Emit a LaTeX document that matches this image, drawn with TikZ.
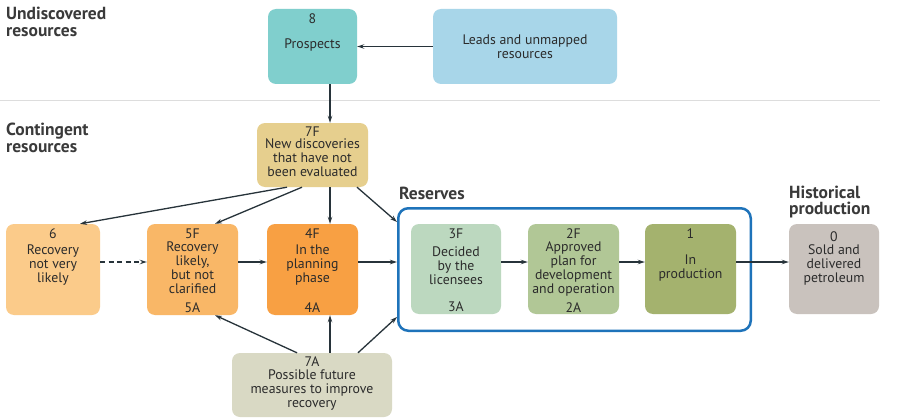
\documentclass[tikz,border=0pt]{standalone}
\usepackage{fontspec}
\setmainfont{PT Sans}
\usepackage{xcolor}
\usetikzlibrary{arrows.meta}

\definecolor{prospcol}{HTML}{80CFCD}
\definecolor{leadcol}{HTML}{A8D6E9}
\definecolor{newcol}{HTML}{E6CF8E}
\definecolor{lowcol}{HTML}{FBCB8A}
\definecolor{likelycol}{HTML}{F9B767}
\definecolor{plancol}{HTML}{F8A043}
\definecolor{decidedcol}{HTML}{BCD8BF}
\definecolor{approvedcol}{HTML}{B1C796}
\definecolor{prodcol}{HTML}{A4B26E}
\definecolor{soldcol}{HTML}{C9C2BD}
\definecolor{futurecol}{HTML}{D9D9C4}
\definecolor{rescol}{HTML}{1E73BA}
\definecolor{arrowcol}{HTML}{27333A}
\definecolor{textcol}{HTML}{2B2B2B}
\definecolor{headcol}{HTML}{3A3A3A}
\definecolor{rulecol}{HTML}{DDDDDD}

\begin{document}
\begin{tikzpicture}[x=1pt, y=-1pt,
    box/.style={rounded corners=8pt, inner sep=0pt, minimum width=91pt, minimum height=91pt},
    lbl/.style={align=center, inner sep=0pt, text=textcol, font=\fontsize{13.8}{14}\selectfont},
    hdr/.style={align=left, inner sep=0pt, anchor=north west, text=headcol, font=\bfseries\fontsize{17.5}{16.8}\selectfont},
    flow/.style={draw=arrowcol, line width=1.3pt, -{Stealth[length=7pt,width=4.5pt]}}]
    % Background and the dividing rule
    \fill[white] (0,0) rectangle (900,420);
    \useasboundingbox (0,0) rectangle (900,420);
    \draw[rulecol, line width=1pt] (0,100) -- (880,100); % rule under undiscovered

    % Headings
    \node[hdr] (undisc) at (6,7) {Undiscovered\\resources};
    \node[hdr] (conting) at (6,123) {Contingent\\resources};
    \node[hdr] (resT) at (399,186.5) {Reserves};
    \node[hdr] (hist) at (789,185.5) {Historical\\production};

    % Undiscovered resources
    \node[box, fill=prospcol, minimum width=89pt, minimum height=75pt] (prosp) at (312.5,46.5) {};
    \node[lbl, anchor=north, yshift=-5pt] (prospT) at (prosp.north) {8\\[11pt]Prospects};
    \node[box, fill=leadcol, minimum width=184pt, minimum height=75pt, lbl] (leads) at (525,46.5) {Leads and unmapped\\resources};

    % Contingent resources
    \node[box, fill=newcol, minimum width=111pt, minimum height=64pt] (new) at (312.5,155) {};
    \node[lbl, anchor=north, yshift=-3.8pt] (newT) at (new.north) {7F\\[-1.5pt]New discoveries\\that have not\\been evaluated};
    \node[box, fill=lowcol, minimum width=94pt] (low) at (53,269.5) {};
    \node[lbl, anchor=north, yshift=-5pt] (lowT) at (low.north) {6\\[2pt]Recovery\\not very\\likely};
    \node[box, fill=likelycol] (likely) at (192.5,269.5) {};
    \node[lbl, anchor=north, yshift=-5pt] (likelyT) at (likely.north) {5F\\[-1pt]Recovery\\likely,\\but not\\clarified};
    \node[lbl, anchor=south, yshift=2.5pt] (likelyA) at (likely.south) {5A};
    \node[box, fill=plancol] (plan) at (312.5,269.5) {};
    \node[lbl, anchor=north, yshift=-5pt] (planT) at (plan.north) {4F\\[1.5pt]In the\\planning\\phase};
    \node[lbl, anchor=south, yshift=2.5pt] (planA) at (plan.south) {4A};
    \node[box, fill=futurecol, minimum width=160pt, minimum height=64pt] (future) at (312,385) {};
    \node[lbl, anchor=north, yshift=-4pt] (futureT) at (future.north) {7A\\[-1pt]Possible future\\measures to improve\\recovery};

    % Reserves
    \node[draw=rescol, line width=2.5pt, rounded corners=10pt, inner sep=0pt, minimum width=352.5pt, minimum height=122.5pt] (reserves) at (574.5,269.5) {};
    \node[box, fill=decidedcol, minimum width=90pt, minimum height=90pt] (decided) at (456,269) {};
    \node[lbl, anchor=north, yshift=-4.5pt] (decidedT) at (decided.north) {3F\\[4pt]Decided\\by the\\licensees};
    \node[lbl, anchor=south, yshift=2pt] (decidedA) at (decided.south) {3A};
    \node[box, fill=approvedcol, minimum height=90pt] (approved) at (573.5,269) {};
    \node[lbl, anchor=north, yshift=-4.5pt] (approvedT) at (approved.north) {2F\\[-1pt]Approved\\plan for\\development\\and operation};
    \node[lbl, anchor=south, yshift=2pt] (approvedA) at (approved.south) {2A};
    \node[box, fill=prodcol, minimum height=90pt] (prod) at (690.5,269) {};
    \node[lbl, anchor=north, yshift=-4.5pt] (prodT) at (prod.north) {1\\[12pt]In\\production};

    % Historical production
    \node[box, fill=soldcol, minimum width=90pt, minimum height=90pt] (sold) at (834,269) {};
    \node[lbl, anchor=north, yshift=-7.5pt] (soldT) at (sold.north) {0\\[-1pt]Sold and\\delivered\\petroleum};

    % Draw the arrows
    \draw[flow] (leads) -- (prosp);
    \draw[flow] ([xshift=17.5pt]prosp.south) -- ([xshift=17.5pt]new.north);
    \draw[flow] ([xshift=-25.5pt]new.south) -- ([xshift=27pt]low.north); % to 6
    \draw[flow] ([xshift=-10.5pt]new.south) -- ([xshift=22.5pt]likely.north); % to 5F
    \draw[flow] ([xshift=17.5pt]new.south) -- ([xshift=17.5pt]plan.north); % to 4F
    \draw[flow] ([xshift=44.5pt]new.south) -- ([yshift=47.5pt]reserves.west); % to reserves
    \draw[flow, dash pattern=on 5pt off 3.5pt] ([yshift=7.5pt]low.east) -- ([yshift=7.5pt]likely.west);
    \draw[flow] ([yshift=7.5pt]likely.east) -- ([yshift=7.5pt]plan.west);
    \draw[flow] ([yshift=7.5pt]plan.east) -- ([yshift=7.5pt]reserves.west);
    \draw[flow] ([yshift=7pt]decided.east) -- ([yshift=7pt]approved.west);
    \draw[flow] ([yshift=7pt]approved.east) -- ([yshift=7pt]prod.west);
    \draw[flow] ([yshift=7pt]prod.east) -- ([yshift=7pt]sold.west);
    \draw[flow] ([xshift=-15pt]future.north) -- ([xshift=22.5pt]likely.south); % to 5A
    \draw[flow] ([xshift=18pt]future.north) -- ([xshift=17.5pt]plan.south); % to 4A
    \draw[flow] ([xshift=46pt]future.north) -- ([yshift=-47.5pt]reserves.west); % to reserves
\end{tikzpicture}
\end{document}
